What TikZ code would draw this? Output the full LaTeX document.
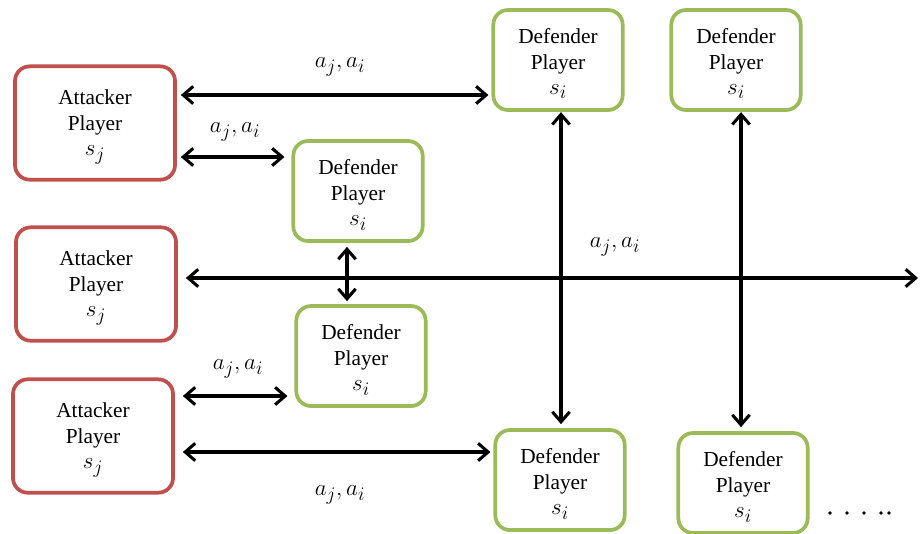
\documentclass[tikz,border=0pt]{standalone}
\usepackage{fontspec}
\setmainfont{Liberation Serif}
\usetikzlibrary{arrows.meta,calc}
\definecolor{attred}{HTML}{C0504D}
\definecolor{defgreen}{HTML}{9BBB59}
\newcommand{\plmath}[1]{{\fontsize{19}{18}\selectfont$#1$}}
\newcommand{\topstrut}{\rule{0pt}{17pt}}
\begin{document}
\begin{tikzpicture}[x=0.75pt,y=-0.75pt,
  font=\fontsize{16}{19}\selectfont,
  player/.style={rounded corners=11pt, line width=2.8pt, fill=white, align=center, inner sep=0pt},
  attacker/.style={player, draw=attred, minimum width=120pt, minimum height=85pt},
  defender/.style={player, draw=defgreen, minimum width=97pt, minimum height=75pt},
  link/.style={line width=2.3pt, {Straight Barb[length=7.5pt,width=13pt]}-{Straight Barb[length=7.5pt,width=13pt]}},
  lbl/.style={inner sep=0pt}
]
\useasboundingbox (0,0) rectangle (923,533);

\node[attacker] (A1) at (95,123) {\topstrut Attacker\\Player\\\plmath{s_j}};
\node[attacker] (A2) at (96,284) {\topstrut Attacker\\Player\\\plmath{s_j}};
\node[attacker] (A3) at (93,436) {\topstrut Attacker\\Player\\\plmath{s_j}};

\node[defender] (D1) at (558,60) {\topstrut Defender\\Player\\\plmath{s_i}};
\node[defender] (D2) at (736,60) {\topstrut Defender\\Player\\\plmath{s_i}};
\node[defender] (D3) at (358,191) {\topstrut Defender\\Player\\\plmath{s_i}};
\node[defender] (D4) at (361,356) {\topstrut Defender\\Player\\\plmath{s_i}};
\node[defender] (D5) at (560,480) {\topstrut Defender\\Player\\\plmath{s_i}};
\node[defender] (D6) at (743,483) {\topstrut Defender\\Player\\\plmath{s_i}};

\coordinate (R) at (918,278);

% horizontal arrows
\draw[link] ($(A1.east)+(4,-28)$) -- ($(D1.west)+(-3,35)$);
\draw[link] ($(A1.east)+(4,34)$) -- ($(D3.west)+(-7,-34)$);
\draw[link] ($(A2.east)+(8,-6)$) -- (R);
\draw[link] ($(A3.east)+(8,-40)$) -- ($(D4.west)+(-7,40)$);
\draw[link] ($(A3.east)+(8,16)$) -- ($(D5.west)+(-3,-28)$);

% vertical arrows
\draw[link] ($(D3.south)+(-11,4)$) -- ($(D4.north)+(-14,-3)$);
\draw[link] ($(D1.north)+(3,104)$) -- ($(D5.north)+(1,-4)$);
\draw[link] ($(D2.north)+(5,104)$) -- ($(D6.north)+(-2,-4)$);

% labels
\node[lbl] (L1) at (340,67) {\plmath{a_j, a_i}};
\node[lbl] (L2) at (235,132) {\plmath{a_j, a_i}};
\node[lbl] (L3) at (615,247) {\plmath{a_j, a_i}};
\node[lbl] (L4) at (238,369) {\plmath{a_j, a_i}};
\node[lbl] (L5) at (340,495) {\plmath{a_j, a_i}};

% dots
\foreach \xx in {830,847,864,881,889}
  \fill (\xx,513) circle (1.4pt);
\end{tikzpicture}
\end{document}
